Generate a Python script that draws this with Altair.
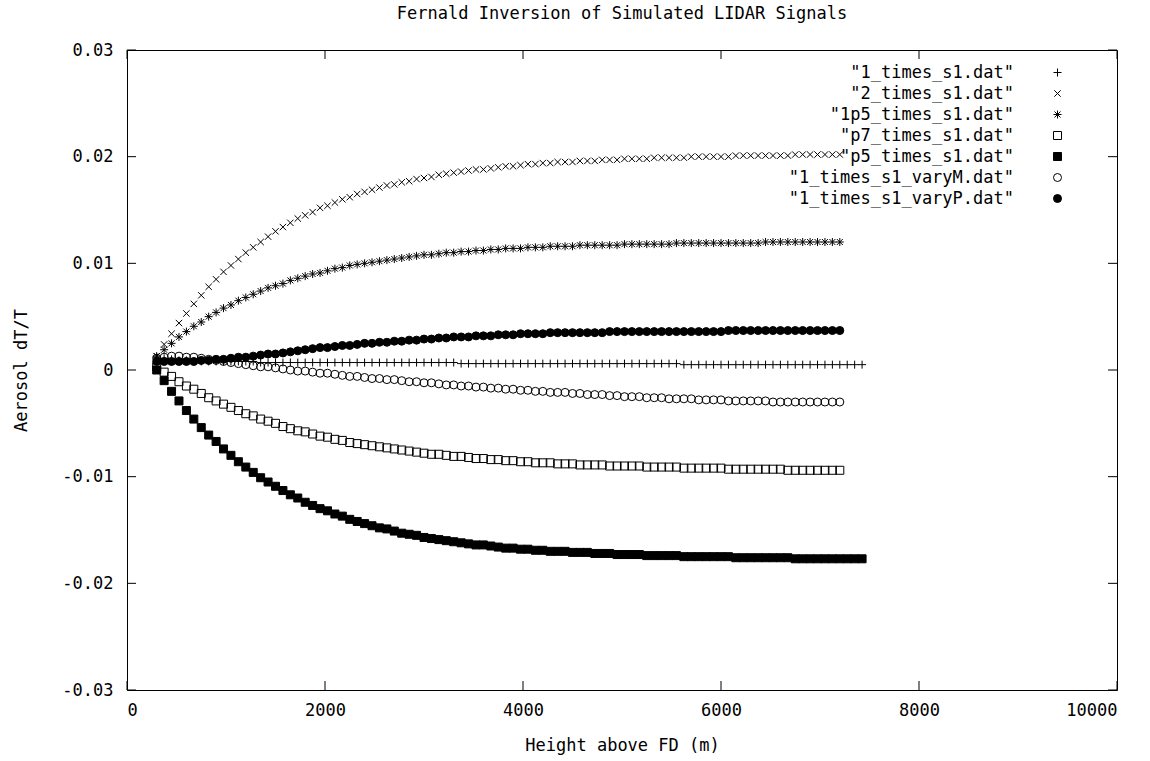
import altair as alt
import pandas as pd

TITLE = "Fernald Inversion of Simulated LIDAR Signals"
X_TITLE = "Height above FD (m)"
Y_TITLE = "Aerosol dT/T"

SERIES = ['"1_times_s1.dat"', '"2_times_s1.dat"', '"1p5_times_s1.dat"',
          '"p7_times_s1.dat"', '"p5_times_s1.dat"', '"1_times_s1_varyM.dat"',
          '"1_times_s1_varyP.dat"']

# range-bin heights (m)
HEIGHTS_SHORT = list(range(300, 7201, 75))   # 93 bins
HEIGHTS_LONG = list(range(300, 7426, 75))    # 96 bins

ONE_TIMES = [
    0.0012, 0.0011, 0.0010, 0.0009, 0.0009, 0.0008, 0.0008, 0.0008, 0.0008, 0.0008,
    0.0008, 0.0008, 0.0008, 0.0008, 0.0007, 0.0007, 0.0007, 0.0007, 0.0007, 0.0007,
    0.0007, 0.0007, 0.0007, 0.0007, 0.0007, 0.0007, 0.0007, 0.0007, 0.0007, 0.0007,
    0.0007, 0.0007, 0.0007, 0.0007, 0.0007, 0.0007, 0.0007, 0.0007, 0.0007, 0.0007,
    0.0007, 0.0006, 0.0006, 0.0006, 0.0006, 0.0006, 0.0006, 0.0006, 0.0006, 0.0006,
    0.0006, 0.0006, 0.0006, 0.0006, 0.0006, 0.0006, 0.0006, 0.0006, 0.0006, 0.0006,
    0.0006, 0.0006, 0.0006, 0.0006, 0.0006, 0.0006, 0.0006, 0.0006, 0.0006, 0.0006,
    0.0006, 0.0005, 0.0005, 0.0005, 0.0005, 0.0005, 0.0005, 0.0005, 0.0005, 0.0005,
    0.0005, 0.0005, 0.0005, 0.0005, 0.0005, 0.0005, 0.0005, 0.0005, 0.0005, 0.0005,
    0.0005, 0.0005, 0.0005, 0.0005, 0.0005, 0.0005]

TWO_TIMES = [
    0.0013, 0.0024, 0.0034, 0.0044, 0.0053, 0.0062, 0.0070, 0.0078, 0.0085, 0.0092,
    0.0098, 0.0104, 0.0110, 0.0115, 0.0120, 0.0125, 0.0130, 0.0134, 0.0138, 0.0142,
    0.0145, 0.0148, 0.0152, 0.0154, 0.0157, 0.0160, 0.0162, 0.0165, 0.0167, 0.0169,
    0.0171, 0.0173, 0.0174, 0.0176, 0.0177, 0.0179, 0.0180, 0.0181, 0.0183, 0.0184,
    0.0185, 0.0186, 0.0187, 0.0188, 0.0188, 0.0189, 0.0190, 0.0191, 0.0191, 0.0192,
    0.0193, 0.0193, 0.0194, 0.0194, 0.0195, 0.0195, 0.0195, 0.0196, 0.0196, 0.0196,
    0.0197, 0.0197, 0.0197, 0.0198, 0.0198, 0.0198, 0.0198, 0.0199, 0.0199, 0.0199,
    0.0199, 0.0199, 0.0200, 0.0200, 0.0200, 0.0200, 0.0200, 0.0200, 0.0201, 0.0201,
    0.0201, 0.0201, 0.0201, 0.0201, 0.0201, 0.0201, 0.0202, 0.0202, 0.0202, 0.0202,
    0.0202, 0.0202, 0.0202]

ONE_P5_TIMES = [
    0.0013, 0.0019, 0.0025, 0.0031, 0.0036, 0.0041, 0.0045, 0.0050, 0.0054, 0.0058,
    0.0061, 0.0065, 0.0068, 0.0071, 0.0074, 0.0077, 0.0079, 0.0081, 0.0084, 0.0086,
    0.0088, 0.0090, 0.0091, 0.0093, 0.0095, 0.0096, 0.0098, 0.0099, 0.0100, 0.0101,
    0.0102, 0.0103, 0.0104, 0.0105, 0.0106, 0.0107, 0.0108, 0.0108, 0.0109, 0.0110,
    0.0110, 0.0111, 0.0111, 0.0112, 0.0112, 0.0113, 0.0113, 0.0114, 0.0114, 0.0114,
    0.0115, 0.0115, 0.0115, 0.0116, 0.0116, 0.0116, 0.0116, 0.0117, 0.0117, 0.0117,
    0.0117, 0.0117, 0.0117, 0.0118, 0.0118, 0.0118, 0.0118, 0.0118, 0.0118, 0.0118,
    0.0119, 0.0119, 0.0119, 0.0119, 0.0119, 0.0119, 0.0119, 0.0119, 0.0119, 0.0119,
    0.0119, 0.0119, 0.0120, 0.0120, 0.0120, 0.0120, 0.0120, 0.0120, 0.0120, 0.0120,
    0.0120, 0.0120, 0.0120]

P7_TIMES = [
    0.0003, -0.0002, -0.0006, -0.0011, -0.0015, -0.0018, -0.0022, -0.0026, -0.0029, -0.0032,
    -0.0035, -0.0038, -0.0041, -0.0043, -0.0046, -0.0048, -0.0050, -0.0053, -0.0055, -0.0057,
    -0.0058, -0.0060, -0.0062, -0.0063, -0.0065, -0.0066, -0.0068, -0.0069, -0.0070, -0.0071,
    -0.0072, -0.0073, -0.0074, -0.0075, -0.0076, -0.0077, -0.0078, -0.0079, -0.0079, -0.0080,
    -0.0081, -0.0081, -0.0082, -0.0083, -0.0083, -0.0084, -0.0084, -0.0085, -0.0085, -0.0086,
    -0.0086, -0.0087, -0.0087, -0.0087, -0.0088, -0.0088, -0.0088, -0.0089, -0.0089, -0.0089,
    -0.0089, -0.0090, -0.0090, -0.0090, -0.0090, -0.0090, -0.0091, -0.0091, -0.0091, -0.0091,
    -0.0091, -0.0092, -0.0092, -0.0092, -0.0092, -0.0092, -0.0092, -0.0093, -0.0093, -0.0093,
    -0.0093, -0.0093, -0.0093, -0.0093, -0.0093, -0.0094, -0.0094, -0.0094, -0.0094, -0.0094,
    -0.0094, -0.0094, -0.0094]

P5_TIMES = [
    0.0000, -0.0010, -0.0020, -0.0029, -0.0038, -0.0046, -0.0054, -0.0061, -0.0067, -0.0074,
    -0.0080, -0.0086, -0.0091, -0.0096, -0.0101, -0.0105, -0.0109, -0.0113, -0.0117, -0.0120,
    -0.0124, -0.0127, -0.0130, -0.0132, -0.0135, -0.0137, -0.0140, -0.0142, -0.0144, -0.0146,
    -0.0148, -0.0149, -0.0151, -0.0153, -0.0154, -0.0155, -0.0157, -0.0158, -0.0159, -0.0160,
    -0.0161, -0.0162, -0.0163, -0.0164, -0.0164, -0.0165, -0.0166, -0.0167, -0.0167, -0.0168,
    -0.0168, -0.0169, -0.0169, -0.0170, -0.0170, -0.0170, -0.0171, -0.0171, -0.0171, -0.0172,
    -0.0172, -0.0172, -0.0173, -0.0173, -0.0173, -0.0173, -0.0174, -0.0174, -0.0174, -0.0174,
    -0.0174, -0.0175, -0.0175, -0.0175, -0.0175, -0.0175, -0.0175, -0.0175, -0.0176, -0.0176,
    -0.0176, -0.0176, -0.0176, -0.0176, -0.0176, -0.0176, -0.0177, -0.0177, -0.0177, -0.0177,
    -0.0177, -0.0177, -0.0177, -0.0177, -0.0177, -0.0177]

VARY_M = [
    0.0011, 0.0012, 0.0013, 0.0013, 0.0012, 0.0012, 0.0011, 0.0010, 0.0009, 0.0008,
    0.0007, 0.0006, 0.0005, 0.0004, 0.0003, 0.0003, 0.0002, 0.0001, 0.0000, -0.0001,
    -0.0001, -0.0002, -0.0003, -0.0003, -0.0004, -0.0005, -0.0006, -0.0006, -0.0007, -0.0008,
    -0.0008, -0.0009, -0.0009, -0.0010, -0.0011, -0.0011, -0.0012, -0.0012, -0.0013, -0.0014,
    -0.0014, -0.0015, -0.0015, -0.0016, -0.0016, -0.0017, -0.0017, -0.0018, -0.0018, -0.0019,
    -0.0019, -0.0020, -0.0020, -0.0021, -0.0021, -0.0021, -0.0022, -0.0022, -0.0023, -0.0023,
    -0.0023, -0.0024, -0.0024, -0.0025, -0.0025, -0.0025, -0.0026, -0.0026, -0.0026, -0.0027,
    -0.0027, -0.0027, -0.0027, -0.0028, -0.0028, -0.0028, -0.0028, -0.0029, -0.0029, -0.0029,
    -0.0029, -0.0029, -0.0029, -0.0030, -0.0030, -0.0030, -0.0030, -0.0030, -0.0030, -0.0030,
    -0.0030, -0.0030, -0.0030]

VARY_P = [
    0.0008, 0.0008, 0.0008, 0.0008, 0.0008, 0.0008, 0.0009, 0.0009, 0.0010, 0.0010,
    0.0011, 0.0012, 0.0012, 0.0013, 0.0014, 0.0015, 0.0015, 0.0016, 0.0017, 0.0018,
    0.0019, 0.0020, 0.0021, 0.0021, 0.0022, 0.0023, 0.0023, 0.0024, 0.0025, 0.0025,
    0.0026, 0.0026, 0.0027, 0.0027, 0.0028, 0.0028, 0.0029, 0.0029, 0.0030, 0.0030,
    0.0031, 0.0031, 0.0031, 0.0032, 0.0032, 0.0032, 0.0033, 0.0033, 0.0033, 0.0034,
    0.0034, 0.0034, 0.0034, 0.0035, 0.0035, 0.0035, 0.0035, 0.0035, 0.0035, 0.0035,
    0.0035, 0.0036, 0.0036, 0.0036, 0.0036, 0.0036, 0.0036, 0.0036, 0.0036, 0.0036,
    0.0036, 0.0036, 0.0036, 0.0036, 0.0036, 0.0036, 0.0036, 0.0037, 0.0037, 0.0037,
    0.0037, 0.0037, 0.0037, 0.0037, 0.0037, 0.0037, 0.0037, 0.0037, 0.0037, 0.0037,
    0.0037, 0.0037, 0.0037]

X_TICKS = [0, 2000, 4000, 6000, 8000, 10000]
Y_TICKS = [-0.03, -0.02, -0.01, 0, 0.01, 0.02, 0.03]

# marker symbols (gnuplot point types 1..7)
SHAPES = [
    "M-1,0L1,0M0,-1L0,1",
    "M-0.8,-0.8L0.8,0.8M-0.8,0.8L0.8,-0.8",
    "M-1,0L1,0M0,-1L0,1M-0.75,-0.75L0.75,0.75M-0.75,0.75L0.75,-0.75",
    "square", "square", "circle", "circle"]
FILLS = ["transparent", "transparent", "transparent", "transparent",
         "black", "transparent", "black"]
STROKES = ["black"] * 7

series_data = [
    (SERIES[0], HEIGHTS_LONG, ONE_TIMES),
    (SERIES[1], HEIGHTS_SHORT, TWO_TIMES),
    (SERIES[2], HEIGHTS_SHORT, ONE_P5_TIMES),
    (SERIES[3], HEIGHTS_SHORT, P7_TIMES),
    (SERIES[4], HEIGHTS_LONG, P5_TIMES),
    (SERIES[5], HEIGHTS_SHORT, VARY_M),
    (SERIES[6], HEIGHTS_SHORT, VARY_P),
]
rows = []
for name, xs, ys in series_data:
    n = min(len(xs), len(ys))
    for x, y in zip(xs[:n], ys[:n]):
        rows.append({"height": x, "value": y, "series": name})
df = pd.DataFrame(rows)

FONT = "DejaVu Sans Mono"
FS = 17
W, H = 990, 640
TICK = 9
MSIZE = 64

xscale = alt.Scale(domain=[0, 10000], nice=False, zero=False)
yscale = alt.Scale(domain=[-0.03, 0.03], nice=False, zero=False)

x_axis = alt.Axis(values=X_TICKS, format="d", title=X_TITLE,
                  labelPadding=12, titleX=W / 2, titleY=55,
                  titleBaseline="middle", titleAlign="center")
y_axis = alt.Axis(values=Y_TICKS, title=Y_TITLE,
                  labelExpr="toString(round(datum.value*100)/100)",
                  labelPadding=14, titleX=-106, titleY=H / 2,
                  titleAngle=270, titleBaseline="middle", titleAlign="center")

legend = alt.Legend(
    title=None, orient="none", legendX=922, legendY=14,
    labelAlign="right", labelOffset={"expr": "-52"}, labelFont=FONT, labelFontSize=FS,
    labelColor="black", labelLimit=500, symbolSize=MSIZE, symbolStrokeColor="black",
    symbolStrokeWidth=1, symbolOpacity=1, rowPadding=3, padding=0,
)

points = alt.Chart(df).mark_point(size=MSIZE, strokeWidth=1, opacity=1).encode(
    x=alt.X("height:Q", scale=xscale, axis=x_axis),
    y=alt.Y("value:Q", scale=yscale, axis=y_axis),
    shape=alt.Shape("series:N", scale=alt.Scale(domain=SERIES, range=SHAPES),
                    legend=legend, sort=SERIES),
    fill=alt.Fill("series:N", scale=alt.Scale(domain=SERIES, range=FILLS),
                  legend=legend, sort=SERIES),
    stroke=alt.Stroke("series:N", scale=alt.Scale(domain=SERIES, range=STROKES),
                      legend=legend, sort=SERIES),
)

xt = pd.DataFrame({"t": X_TICKS})
yt = pd.DataFrame({"t": Y_TICKS})
rule = dict(color="black", strokeWidth=1)
tick_bottom = alt.Chart(xt).mark_rule(**rule).encode(
    x=alt.X("t:Q", scale=xscale, axis=x_axis), y=alt.value(H), y2=alt.value(H - TICK))
tick_top = alt.Chart(xt).mark_rule(**rule).encode(
    x=alt.X("t:Q", scale=xscale, axis=x_axis), y=alt.value(0), y2=alt.value(TICK))
tick_left = alt.Chart(yt).mark_rule(**rule).encode(
    y=alt.Y("t:Q", scale=yscale, axis=y_axis), x=alt.value(0), x2=alt.value(TICK))
tick_right = alt.Chart(yt).mark_rule(**rule).encode(
    y=alt.Y("t:Q", scale=yscale, axis=y_axis), x=alt.value(W), x2=alt.value(W - TICK))

chart = alt.layer(points, tick_bottom, tick_top, tick_left, tick_right).properties(
    width=W, height=H,
    title=alt.Title(TITLE, font=FONT, fontSize=FS, fontWeight="normal", color="black",
                    anchor="middle", frame="group", offset=18),
    padding={"left": 127, "top": 50, "right": 33, "bottom": 71},
    autosize=alt.AutoSizeParams(type="none"),
    background="white",
).configure_view(stroke="black", strokeWidth=1).configure_axis(
    domain=False, ticks=False, grid=False, labelFont=FONT, labelFontSize=FS,
    labelColor="black", titleFont=FONT, titleFontSize=FS, titleFontWeight="normal",
    titleColor="black",
)

chart.save("out.html", embed_options={"renderer": "svg", "actions": False})
